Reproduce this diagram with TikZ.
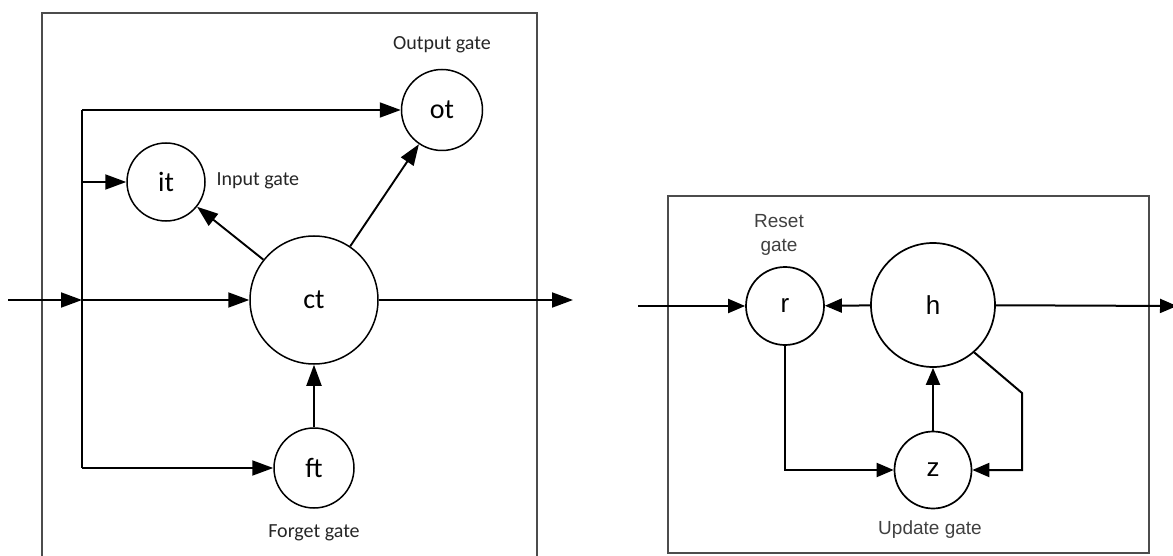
\documentclass[tikz,border=0pt]{standalone}
\usepackage{fontspec}
\setmainfont{Carlito}
\newfontfamily\arialfont{Liberation Sans}
\usetikzlibrary{arrows.meta}
\begin{document}
\begin{tikzpicture}[x=1pt,y=-1pt,
  gate/.style={circle, draw, line width=1.5pt, inner sep=0pt, font=\fontsize{28}{28}\selectfont},
  gruGate/.style={circle, draw, line width=1.7pt, inner sep=0pt, font=\arialfont\fontsize{26}{26}\selectfont},
  lbl/.style={font=\fontsize{20}{24}\selectfont, text=black!85},
  gruLbl/.style={font=\arialfont\fontsize{19}{24}\selectfont, text=black!75, align=center},
  ln/.style={line width=1.9pt},
  arr/.style={line width=1.9pt, -{Triangle[length=21pt,width=15pt]}},
  arrg/.style={line width=2pt, -{Triangle[length=17pt,width=14pt]}},
  frame/.style={line width=1.3pt, draw=black!70}]
\useasboundingbox (0,0) rectangle (1173,556);
\clip (0,0) rectangle (1173,556);

% ---------- LSTM cell ----------
\draw[frame] (42,13) rectangle (537,575);

\node[gate, minimum size=128pt] (ct) at (314,300) {ct};
\node[gate, minimum size=78pt]  (it) at (166,182) {it};
\node[gate, minimum size=81pt]  (ot) at (442,110) {ot};
\node[gate, minimum size=80pt]  (ft) at (314,468) {ft};

\coordinate (in)  at (8,300);
\coordinate (j)   at (82,300);
\coordinate (jt)  at (82,110);
\coordinate (ji)  at (82,182);
\coordinate (jb)  at (82,468);
\coordinate (out) at (573,300);

\draw[ln]  (jt) -- (jb);
\draw[arr] (jt) -- (ot);
\draw[arr] (ji) -- (it);
\draw[arr] (jb) -- (ft);
\draw[arr] (in) -- (j);
\draw[arr] (j) -- (ct);
\draw[arr] (ct) -- (out);
\draw[arr] (ct) -- (it);
\draw[arr] (ct) -- (ot);
\draw[arr] (ft) -- (ct);

\node[lbl] (lo) at (442,45) {Output gate};
\node[lbl, anchor=west] (li) at (213,181) {Input gate};
\node[lbl] (lf) at (314,533) {Forget gate};

% ---------- GRU cell ----------
\draw[frame] (668,196) rectangle (1149,553);

\node[gruGate, minimum size=78pt]  (r) at (785,306) {r};
\node[gruGate, minimum size=124pt] (h) at (933,305) {h};
\node[gruGate, minimum size=77pt]  (z) at (933,470) {z};

\coordinate (rin)  at (638,306);
\coordinate (rout) at (1177,306);
\coordinate (k1)   at (1022,393);

\draw[arrg] (rin) -- (r);
\draw[arrg] (h) -- (r);
\draw[arrg] (h) -- (rout);
\draw[arrg] (z) -- (h);
\draw[arrg] (r) |- (z);
\draw[arrg] (h.-49) -- (k1) |- (z);

\node[gruLbl] (lr) at (779,235) {Reset\\gate};
\node[gruLbl] (lz) at (930,530) {Update gate};
\end{tikzpicture}
\end{document}
